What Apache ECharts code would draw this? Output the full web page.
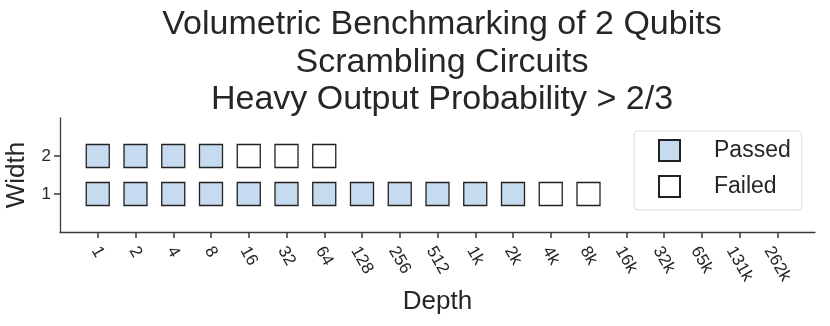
<!DOCTYPE html>
<html>
<head>
<meta charset="utf-8">
<script src="https://cdn.jsdelivr.net/npm/echarts@6/dist/echarts.min.js"></script>
<style>
  html, body { margin: 0; padding: 0; background: #fff; }
  #main { width: 830px; height: 326px; }
</style>
</head>
<body>
<div id="main"></div>
<script>
// depth tick labels, placed at positions 1..19 (axis runs 0..20)
var depthLabels = ['1', '2', '4', '8', '16', '32', '64', '128', '256', '512',
  '1k', '2k', '4k', '8k', '16k', '32k', '65k', '131k', '262k'];
var widthTicks = [1, 2];

// circuits that passed / failed, as depth label + width
var passedDepth = ['1', '2', '4', '8', '16', '32', '64', '128', '256', '512', '1k', '2k',
  '1', '2', '4', '8'];
var passedWidth = [1, 1, 1, 1, 1, 1, 1, 1, 1, 1, 1, 1, 2, 2, 2, 2];
var failedDepth = ['4k', '8k', '16', '32', '64'];
var failedWidth = [1, 1, 2, 2, 2];

var depthPos = depthLabels.map(function (d, i) { return i + 1; });

function pairs(xs, ys) {
  return xs.map(function (d, i) { return [depthLabels.indexOf(d) + 1, ys[i]]; });
}

var fontFam = 'Liberation Sans, Arial, sans-serif';
var tickFont = 17;
var textCol = '#262626';
var axisCol = '#3a3a3a';

// matplotlib centres the rotated label box under the tick; work out per-label
// padding so the ECharts label lands the same way
var ctx = document.createElement('canvas').getContext('2d');
ctx.font = tickFont + 'px ' + fontFam;
var rich = {};
depthLabels.forEach(function (d, i) {
  var w = ctx.measureText(d).width;
  rich['l' + i] = {
    fontSize: tickFont,
    color: textCol,
    padding: [0.433 * w, 0, 0, 0.75 * w]
  };
});

// second pair of axes on the same grid that only draws the tick marks
function tickAxis(max, ticks) {
  return {
    type: 'value',
    min: 0,
    max: max,
    interval: 1,
    axisLine: { show: false },
    axisLabel: { show: false },
    splitLine: { show: false },
    axisTick: {
      show: true,
      length: 6,
      customValues: ticks,
      lineStyle: { color: axisCol, width: 1.5 }
    }
  };
}

var chartDom = document.getElementById('main');
var myChart = echarts.init(chartDom);
var option;

option = {
  animation: false,
  textStyle: { fontFamily: fontFam },
  title: {
    text: 'Volumetric Benchmarking of 2 Qubits\nScrambling Circuits\nHeavy Output Probability > 2/3',
    left: 437,
    top: 1,
    textAlign: 'center',
    textStyle: {
      fontSize: 34,
      lineHeight: 37.5,
      fontWeight: 'normal',
      color: textCol
    }
  },
  grid: { left: 60, right: 15, top: 118, bottom: 94, outerBoundsMode: 'none' },
  legend: {
    orient: 'vertical',
    left: 634,
    top: 131,
    padding: [8, 11, 12, 24],
    itemWidth: 21,
    itemHeight: 21,
    itemGap: 13,
    borderColor: '#dcdcdc',
    borderWidth: 1,
    borderRadius: 4,
    textStyle: { fontSize: 23, color: textCol, padding: [0, 0, 0, 29] },
    data: ['Passed', 'Failed']
  },
  xAxis: [
    {
      type: 'value',
      min: 0,
      max: 20,
      interval: 1,
      name: 'Depth',
      nameLocation: 'middle',
      nameGap: 57,
      nameTextStyle: { fontSize: 26, color: textCol },
      axisLine: { lineStyle: { color: axisCol, width: 1.3 } },
      axisTick: { show: false },
      axisLabel: {
        customValues: depthPos,
        rotate: -60,
        align: 'center',
        verticalAlign: 'middle',
        margin: 16,
        fontSize: tickFont,
        color: textCol,
        formatter: function (v) {
          var i = Math.round(v) - 1;
          return '{l' + i + '|' + depthLabels[i] + '}';
        },
        rich: rich
      },
      splitLine: { show: false }
    },
    Object.assign(tickAxis(20, depthPos), { position: 'bottom' })
  ],
  yAxis: [
    {
      type: 'value',
      min: 0,
      max: 3,
      interval: 1,
      name: 'Width',
      nameLocation: 'middle',
      nameGap: 30,
      nameTextStyle: { fontSize: 26, color: textCol },
      axisLine: { show: true, lineStyle: { color: axisCol, width: 1.3 } },
      axisTick: { show: false },
      axisLabel: { customValues: widthTicks, fontSize: 17, color: textCol, margin: 9 },
      splitLine: { show: false }
    },
    Object.assign(tickAxis(3, widthTicks), { position: 'left' })
  ],
  series: [
    {
      name: 'Passed',
      type: 'scatter',
      symbol: 'rect',
      symbolSize: 23,
      itemStyle: { color: '#c6dbef', borderColor: '#222', borderWidth: 1.3, opacity: 1 },
      data: pairs(passedDepth, passedWidth)
    },
    {
      name: 'Failed',
      type: 'scatter',
      symbol: 'rect',
      symbolSize: 23,
      itemStyle: { color: '#ffffff', borderColor: '#222', borderWidth: 1.3, opacity: 1 },
      data: pairs(failedDepth, failedWidth)
    }
  ]
};
myChart.setOption(option);
</script>
</body>
</html>
